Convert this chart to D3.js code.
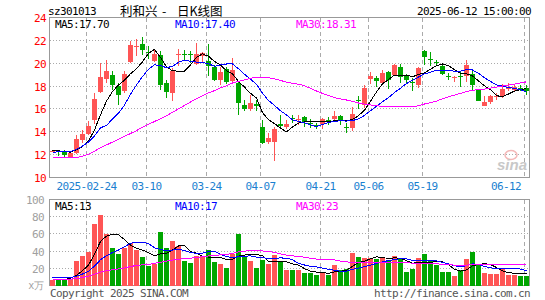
<!DOCTYPE html>
<html><head><meta charset="utf-8">
<script src="https://cdn.jsdelivr.net/npm/d3@7/dist/d3.min.js"></script>
<style>
body{margin:0;background:#fff}
svg{display:block}
text{font-family:"DejaVu Sans Mono",monospace;font-size:11px;letter-spacing:-0.62px}
</style>
</head><body>
<svg id="c" width="545" height="300"></svg>
<script>
const dates = [
"2025-02-14","2025-02-17","2025-02-18","2025-02-19","2025-02-20","2025-02-21",
"2025-02-24","2025-02-25","2025-02-26","2025-02-27","2025-02-28",
"2025-03-03","2025-03-04","2025-03-05","2025-03-06","2025-03-07",
"2025-03-10","2025-03-11","2025-03-12","2025-03-13","2025-03-14",
"2025-03-17","2025-03-18","2025-03-19","2025-03-20","2025-03-21",
"2025-03-24","2025-03-25","2025-03-26","2025-03-27","2025-03-28",
"2025-03-31","2025-04-01","2025-04-02","2025-04-03",
"2025-04-07","2025-04-08","2025-04-09","2025-04-10","2025-04-11",
"2025-04-14","2025-04-15","2025-04-16","2025-04-17","2025-04-18",
"2025-04-21","2025-04-22","2025-04-23","2025-04-24","2025-04-25",
"2025-04-28","2025-04-29","2025-04-30",
"2025-05-06","2025-05-07","2025-05-08","2025-05-09",
"2025-05-12","2025-05-13","2025-05-14","2025-05-15","2025-05-16",
"2025-05-19","2025-05-20","2025-05-21","2025-05-22","2025-05-23",
"2025-05-26","2025-05-27","2025-05-28","2025-05-29","2025-05-30",
"2025-06-03","2025-06-04","2025-06-05","2025-06-06",
"2025-06-09","2025-06-10","2025-06-11","2025-06-12"];

const open = [12.28,12.35,12.23,11.83,12.17,13.31,13.81,15.06,17.48,18.65,
19.00,18.03,17.60,20.10,21.39,21.71,20.95,20.16,20.69,18.27,
17.39,20.75,20.85,20.85,19.95,20.60,20.16,19.64,18.50,19.52,
18.41,18.27,16.37,15.99,16.40,14.45,13.08,13.11,14.65,14.42,
15.18,15.10,15.26,14.80,14.57,14.68,15.06,15.15,15.41,14.43,
14.33,16.75,16.31,18.65,18.70,18.27,19.20,19.00,19.67,18.94,
18.40,18.12,21.04,20.40,20.10,19.73,18.88,18.74,18.88,18.85,
19.08,17.69,16.29,16.61,17.04,17.10,17.80,17.69,17.85,17.83];
const high = [12.40,12.45,12.44,12.29,13.69,14.19,14.92,17.39,20.02,20.31,
19.35,18.27,19.35,21.91,22.12,22.29,21.50,21.13,21.04,18.50,
19.60,21.27,21.13,21.10,21.74,21.00,21.68,19.87,19.64,19.64,
20.45,18.41,16.81,17.25,16.81,15.00,13.90,14.39,15.44,15.00,
15.44,15.44,15.35,15.15,14.77,15.20,15.26,15.85,15.50,14.77,
16.17,17.10,18.12,19.20,18.91,19.43,19.35,19.93,19.96,19.06,
18.70,19.70,21.18,20.98,20.26,19.82,19.14,18.90,19.30,20.25,
19.38,17.75,17.16,17.25,17.40,18.18,18.25,18.20,18.10,18.07];
const low = [12.20,11.85,11.77,11.77,12.06,13.02,13.69,14.68,17.39,18.27,
17.69,16.37,17.39,20.02,20.60,20.75,20.40,20.10,17.69,16.96,
16.70,19.73,20.16,20.00,19.84,20.00,18.85,18.41,18.06,18.20,
18.33,15.44,15.85,15.79,15.79,12.93,12.93,11.48,14.39,14.27,
14.77,14.62,14.39,14.33,14.25,14.27,14.62,14.97,14.62,13.90,
14.10,15.99,16.08,18.18,17.89,18.20,17.77,18.95,18.27,18.18,
17.60,17.85,19.87,19.73,19.81,18.93,18.50,18.40,17.95,18.36,
17.63,16.66,16.25,16.44,16.75,16.96,17.54,17.54,17.54,17.25];
const close = [12.30,12.30,11.94,12.17,13.40,13.81,14.54,16.90,18.79,19.35,
18.12,17.25,19.06,21.62,21.53,21.18,20.90,20.80,18.12,17.48,
19.35,20.80,20.80,20.80,20.80,20.90,19.73,18.56,19.23,18.33,
19.43,16.52,16.02,16.52,16.30,13.02,13.46,14.27,14.55,14.65,
15.15,15.15,14.83,14.77,14.54,15.12,15.03,15.41,14.97,14.40,
15.56,16.72,17.83,18.85,18.47,19.14,18.56,19.81,18.76,18.56,
18.36,19.58,20.54,20.37,20.08,19.08,18.85,18.78,18.85,19.81,
18.12,16.72,16.61,17.16,17.16,17.77,17.83,17.89,17.83,17.54];
const volume = [6.6,7.8,7.8,7.8,28.7,34.5,39.5,71.6,82,60,
44.1,36.8,44.1,49.9,41.4,33.7,22.1,24.8,62.6,44.1,
52.2,46.1,28.7,26.7,34.4,34.4,41.4,27.9,25.2,20.9,
36.4,60,34.4,28.7,20.9,30,25,35.6,28.6,18.2,
18.2,18.2,14.7,14.7,12.4,15.9,12.4,24,17.6,19.5,
38,33.7,32,32,30.8,33.3,29.8,34.4,31,15.5,
19.4,32.5,36.8,28.6,24,15.5,15.5,10.5,18.2,31,
39.5,24,14,13.5,13.5,20,12.5,12.5,10.5,11.5];

// moving-average values for the days whose window starts before the chart
const ma5Head = [12.35,12.33,12.28,12.22];
const ma10Head = [12.22,12.24,12.25,12.28,12.45,12.75,13.10,13.65,14.35];
const ma30Head = [11.72,11.72,11.72,11.72,11.75,11.85,12.05,12.30,12.60,12.85,
13.10,13.35,13.60,13.85,14.10,14.40,14.65,14.90,15.15,15.40,
15.70,16.00,16.30,16.60,16.90,17.15,17.40,17.60,17.85];
const volMa5Head = [9.6,9.3,8.9,8.4];
const volMa10Head = [9.7,9.5,9.3,9.1,11.0,13.3,16.5,22.7,29.9];
const volMa30Head = [7.3,7.3,7.3,7.4,8.0,9.3,11.0,13.0,15.5,17.3,
18.3,19.3,20.5,22.0,23.3,24.0,24.5,25.8,27.0,28.3,
29.5,30.5,31.2,31.8,32.5,33.3,34.4,35.0,35.6];

const priceTicks = [10,12,14,16,18,20,22,24];
const volTicks = [20,40,60,80,100];
const dateTicks = ["2025-02-24","2025-03-10","2025-03-24","2025-04-07","2025-04-21","2025-05-06","2025-05-19","2025-06-12"];
const dateTickLabels = ["2025-02-24","03-10","03-24","04-07","04-21","05-06","05-19","06-12"];

const code = "sz301013", titleName = "利和兴", titleDash = "-", titleKind = "日K线图", stamp = "2025-06-12 15:00:00";
const priceLegend = ["MA5:17.70","MA10:17.40","MA30:18.31"];
const volLegend = ["MA5:13","MA10:17","MA30:23"];

const RED = "#ff5555", GREEN = "#00a600", GRID = "#aaaaaa", FRAME = "#999999";
const lineColors = ["#000000","#0000ff","#ff00ff"];

function movingAvg(vals, n, head){
  return vals.map((v,i)=> i < head.length ? head[i] : d3.mean(vals.slice(i-n+1, i+1)));
}
const pMA = [movingAvg(close,5,ma5Head), movingAvg(close,10,ma10Head), movingAvg(close,30,ma30Head)];
const vMA = [movingAvg(volume,5,volMa5Head), movingAvg(volume,10,volMa10Head), movingAvg(volume,30,volMa30Head)];

const svg = d3.select("#c");
const L = 49.5, R = 529.5;
const x = d3.scaleBand().domain(dates).range([L, R]).paddingInner(1/6).paddingOuter(1/12);
const bw = x.bandwidth();
const yP = d3.scaleLinear().domain([10,24]).range([177.5,17.5]);
const yV = d3.scaleLinear().domain([0,100]).range([285.5,199.5]);
const px = v => Math.floor(v) + 0.5;

// header
svg.append("text").attr("x",48).attr("y",15).attr("fill","#000").text(code);
const cjk = s => s.style("font-family","'Noto Sans CJK SC',sans-serif").style("font-size","12.5px").style("letter-spacing","0px");
cjk(svg.append("text").attr("x",120).attr("y",15.5).attr("fill","#000")).text(titleName);
cjk(svg.append("text").attr("x",162).attr("y",15.5).attr("fill","#000")).text(titleDash);
cjk(svg.append("text").attr("x",177).attr("y",15.5).attr("fill","#000")).text(titleKind);
svg.append("text").attr("x",531).attr("y",15).attr("text-anchor","end").attr("fill","#000").text(stamp);

function panel(y, top, bottom, gridTicks){
  const g = svg.append("g");
  g.selectAll("line.h").data(gridTicks).join("line")
    .attr("x1",L).attr("x2",R).attr("y1",d=>px(y(d))).attr("y2",d=>px(y(d)))
    .attr("stroke",GRID).attr("stroke-dasharray","1,2").attr("shape-rendering","crispEdges");
  g.selectAll("line.v").data(dateTicks).join("line")
    .attr("x1",d=>x(d)+0.5).attr("x2",d=>x(d)+0.5).attr("y1",top).attr("y2",bottom)
    .attr("stroke",GRID).attr("stroke-dasharray","4,3").attr("shape-rendering","crispEdges");
  g.append("rect").attr("x",L).attr("y",top).attr("width",R-L).attr("height",bottom-top)
    .attr("fill","none").attr("stroke",FRAME).attr("shape-rendering","crispEdges");
  return g;
}

// price panel
panel(yP, 17.5, 177.5, [12,14,16,18,20,22]);
const idx = d3.range(dates.length);
const cg = svg.append("g").attr("shape-rendering","crispEdges");
cg.selectAll("line.w").data(idx).join("line")
  .attr("x1",i=>x(dates[i])+bw/2).attr("x2",i=>x(dates[i])+bw/2)
  .attr("y1",i=>yP(high[i])).attr("y2",i=>yP(low[i]))
  .attr("stroke",i=>close[i]>=open[i]?RED:GREEN);
cg.selectAll("rect.b").data(idx).join("rect")
  .attr("x",i=>x(dates[i])).attr("width",bw)
  .attr("y",i=>yP(Math.max(open[i],close[i])))
  .attr("height",i=>Math.max(1, yP(Math.min(open[i],close[i]))-yP(Math.max(open[i],close[i]))))
  .attr("fill",i=>close[i]>=open[i]?RED:GREEN);

// watermark
const wm = svg.append("g");
wm.append("ellipse").attr("cx",511).attr("cy",155).attr("rx",6).attr("ry",4.5).attr("fill","none").attr("stroke","#f4b8b8").attr("stroke-width",1.5);
wm.append("text").attr("x",497).attr("y",170).attr("fill","#c8c8c8")
  .style("font-family","'Liberation Sans',Arial,sans-serif").style("font-size","15px").style("font-style","italic").style("font-weight","bold").style("letter-spacing","0px")
  .text("sina");

pMA.forEach((arr,k)=>{
  svg.append("path").datum(idx)
    .attr("d", d3.line().x(i=>x(dates[i])+bw/2).y(i=>yP(arr[i])))
    .attr("fill","none").attr("stroke",lineColors[k]).attr("stroke-width",1).attr("shape-rendering","crispEdges");
});

const ay = svg.append("g").attr("transform","translate(46,0)")
  .call(d3.axisLeft(yP).tickValues(priceTicks).tickSize(0).tickPadding(0).tickFormat(d3.format("d")));
ay.select(".domain").remove();
ay.selectAll("text").attr("fill","#ff0000").style("font-family","'DejaVu Sans Mono',monospace").style("font-size","11px").attr("dy","0.36em");

[55,175,296].forEach((lx,k)=>{
  svg.append("text").attr("x",lx).attr("y",28).attr("fill",lineColors[k]).text(priceLegend[k]);
});

svg.selectAll("text.d").data(dateTicks).join("text")
  .attr("x",(d,i)=> i===dateTicks.length-1 ? 521 : x(d)+0.5)
  .attr("y",190).attr("text-anchor",(d,i)=> i===dateTicks.length-1 ? "end":"middle")
  .attr("fill","#1a7fd0").text((d,i)=>dateTickLabels[i]);

// volume panel
panel(yV, 199.5, 285.5, [20,40,60,80]);
svg.append("g").attr("shape-rendering","crispEdges").selectAll("rect").data(idx).join("rect")
  .attr("x",i=>x(dates[i])).attr("width",bw)
  .attr("y",i=>yV(volume[i])).attr("height",i=>yV(0)-yV(volume[i]))
  .attr("fill",i=>close[i]>=open[i]?RED:GREEN);
vMA.forEach((arr,k)=>{
  svg.append("path").datum(idx)
    .attr("d", d3.line().x(i=>x(dates[i])+bw/2).y(i=>yV(arr[i])))
    .attr("fill","none").attr("stroke",lineColors[k]).attr("stroke-width",1).attr("shape-rendering","crispEdges");
});
const av = svg.append("g").attr("transform","translate(44,0)")
  .call(d3.axisLeft(yV).tickValues(volTicks).tickSize(0).tickPadding(0).tickFormat(d3.format("d")));
av.select(".domain").remove();
av.selectAll("text").attr("fill","#a0a0a0").style("font-family","'DejaVu Sans Mono',monospace").style("font-size","11px").attr("dy","0.36em");
svg.append("text").attr("x",43).attr("y",289).attr("text-anchor","end").attr("fill","#a0a0a0")
  .style("font-size","10px").text("x万");
[55,175,296].forEach((lx,k)=>{
  svg.append("text").attr("x",lx).attr("y",210).attr("fill",lineColors[k]).text(volLegend[k]);
});

svg.append("text").attr("x",50).attr("y",297).attr("fill","#555").text("Copyright 2025 SINA.COM");
svg.append("text").attr("x",530).attr("y",297).attr("text-anchor","end").attr("fill","#555").text("http://finance.sina.com.cn");
</script>
</body></html>
